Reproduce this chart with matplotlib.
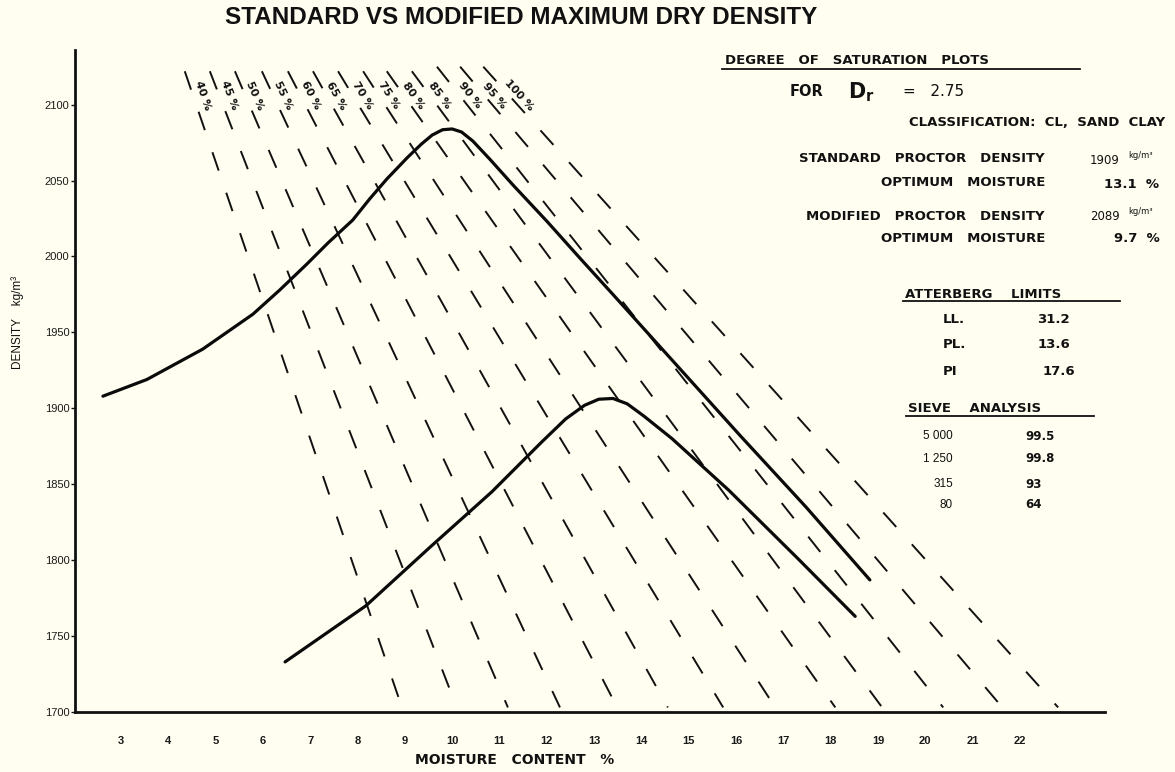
import numpy as np
import matplotlib
matplotlib.use("Agg")
import matplotlib.pyplot as plt
from matplotlib.lines import Line2D

W, H = 1175, 772
BG = "#fffef0"

# compaction curves (moisture %, dry density kg/m3)
mod_moisture = [2.62, 3.55, 4.73, 5.79, 6.36, 6.93, 7.38, 7.90, 8.26, 8.62, 9.05, 9.35, 9.58,
                9.80, 10.00, 10.20, 10.44, 10.80, 11.29, 12.01, 12.70, 13.40, 14.73, 16.09,
                17.48, 18.83]
mod_density = [1908, 1919, 1939, 1962, 1978, 1995, 2009, 2024, 2038, 2051, 2065, 2074, 2080,
               2083.5, 2084, 2082, 2076, 2064, 2047, 2023, 1999, 1975, 1929, 1882, 1835, 1787]

std_moisture = [6.47, 8.18, 9.55, 10.84, 11.90, 12.40, 12.80, 13.10, 13.40, 13.70, 14.05,
                14.65, 15.85, 17.31, 18.52]
std_density = [1733, 1770, 1809, 1845, 1878, 1893, 1902, 1906, 1906.5, 1903, 1895, 1880,
               1846, 1801, 1763]

# degree of saturation lines, read at top and bottom ends
sat_labels = ["40 %", "45 %", "50 %", "55 %", "60 %", "65 %", "70 %", "75 %", "80 %",
              "85 %", "90 %", "95 %", "100 %"]
sat_top_w = [4.35, 4.88, 5.41, 5.98, 6.53, 7.06, 7.59, 8.12, 8.62, 9.15, 9.68, 10.17, 10.66]
sat_top_d = [2122, 2122, 2122, 2122, 2122, 2122, 2122, 2122, 2122, 2122, 2125, 2125, 2125]
sat_bot_w = [8.94, 10.10, 11.18, 12.28, 13.49, 14.56, 15.73, 16.83, 18.10, 19.09, 20.38,
             21.63, 22.81]
sat_bot_d = [1703, 1703, 1703, 1703, 1703, 1703, 1703, 1703, 1703, 1703, 1703, 1703, 1703]

x_ticks = list(range(3, 23))
y_ticks = list(range(1700, 2101, 50))

fig = plt.figure(figsize=(W / 100, H / 100), dpi=100, facecolor=BG)
ax = fig.add_axes([75 / W, 1 - 712 / H, 1030 / W, 662 / H])
ax.set_facecolor(BG)
ax.set_xlim(2.03, 23.8)
ax.set_ylim(1700, 2136)

for s in ["top", "right"]:
    ax.spines[s].set_visible(False)
for s in ["left", "bottom"]:
    ax.spines[s].set_linewidth(2)
    ax.spines[s].set_color("#111111")

ax.set_xticks(x_ticks)
ax.set_xticklabels([str(t) for t in x_ticks], fontsize=8, fontweight="bold",
                   family="Liberation Sans", color="#1a1a1a")
ax.set_yticks(y_ticks)
ax.set_yticklabels([str(t) for t in y_ticks], fontsize=8, family="Liberation Sans",
                   color="#1a1a1a")
ax.tick_params(axis="x", length=0, pad=17)
ax.tick_params(axis="y", length=3, width=1, pad=1, color="#111111")

# saturation lines
for i in range(len(sat_labels)):
    ln, = ax.plot([sat_top_w[i], sat_bot_w[i]], [sat_top_d[i], sat_bot_d[i]],
                  color="#111111", lw=1.4, clip_on=False)
    ln.set_dashes((10, 12))

# compaction curves
ax.plot(mod_moisture, mod_density, color="#0a0a0a", lw=2.3, solid_capstyle="round",
        solid_joinstyle="round")
ax.plot(std_moisture, std_density, color="#0a0a0a", lw=2.3, solid_capstyle="round",
        solid_joinstyle="round")

# saturation labels, rotated along each line
label_d = 2106
for i, lab in enumerate(sat_labels):
    p1 = ax.transData.transform((sat_top_w[i], sat_top_d[i]))
    p2 = ax.transData.transform((sat_bot_w[i], sat_bot_d[i]))
    ang = np.degrees(np.arctan2(p2[1] - p1[1], p2[0] - p1[0]))
    t = (sat_top_d[i] - label_d) / (sat_top_d[i] - sat_bot_d[i])
    xl = sat_top_w[i] + t * (sat_bot_w[i] - sat_top_w[i])
    ax.annotate(lab, xy=(xl, label_d), xytext=(7, 0), textcoords="offset points",
                rotation=ang, rotation_mode="anchor", ha="center", va="center",
                fontsize=8, fontweight="bold", color="#111111", annotation_clip=False)


def ftext(x, y, s, **kw):
    kw.setdefault("color", "#111111")
    kw.setdefault("va", "center")
    fig.text(x / W, 1 - y / H, s, **kw)


def uline(x0, x1, y):
    fig.add_artist(Line2D([x0 / W, x1 / W], [1 - y / H, 1 - y / H], color="#111111", lw=1.3))


stencil = dict(fontsize=9.5, fontweight="bold", family="DejaVu Sans")
plain = dict(fontsize=8.5, family="DejaVu Sans")

ftext(521, 18, "STANDARD VS MODIFIED MAXIMUM DRY DENSITY", ha="center",
      fontsize=17.5, fontweight="bold", family="Liberation Sans")
ftext(515, 760, "MOISTURE   CONTENT   %", ha="center", fontsize=10, fontweight="bold",
      family="DejaVu Sans")
ftext(18, 322, "DENSITY    kg/m³", ha="center", rotation=90, fontsize=8.5,
      family="Liberation Sans")

ftext(725, 61, "DEGREE   OF   SATURATION   PLOTS", ha="left", **stencil)
uline(722, 1080, 69)
ftext(790, 91, "FOR", ha="left", fontsize=10.5, fontweight="bold", family="DejaVu Sans")
ftext(848, 92, r"$\mathbf{D_r}$", ha="left", fontsize=15)
ftext(903, 91, "=   2.75", ha="left", fontsize=11, family="DejaVu Sans")
ftext(1165, 123, "CLASSIFICATION:  CL,  SAND  CLAY", ha="right", **stencil)

ftext(1045, 159, "STANDARD   PROCTOR   DENSITY", ha="right", **stencil)
ftext(1090, 160, "1909", ha="left", **plain)
ftext(1128, 155, "kg/m³", ha="left", fontsize=6, family="DejaVu Sans")
ftext(1045, 183, "OPTIMUM   MOISTURE", ha="right", **stencil)
ftext(1104, 184, "13.1  %", ha="left", fontsize=9.5, fontweight="bold", family="DejaVu Sans")
ftext(1045, 216, "MODIFIED   PROCTOR   DENSITY", ha="right", **stencil)
ftext(1090, 217, "2089", ha="left", **plain)
ftext(1128, 212, "kg/m³", ha="left", fontsize=6, family="DejaVu Sans")
ftext(1045, 238, "OPTIMUM   MOISTURE", ha="right", **stencil)
ftext(1114, 239, "9.7  %", ha="left", fontsize=9.5, fontweight="bold", family="DejaVu Sans")

ftext(905, 294, "ATTERBERG    LIMITS", ha="left", **stencil)
uline(903, 1120, 301)
atter_names = ["LL.", "PL.", "PI"]
atter_values = ["31.2", "13.6", "17.6"]
atter_y = [320, 345, 372]
atter_vx = [1037, 1038, 1043]
for name, val, yy, vx in zip(atter_names, atter_values, atter_y, atter_vx):
    ftext(943, yy, name, ha="left", **stencil)
    ftext(vx, yy, val, ha="left", **stencil)

ftext(908, 409, "SIEVE    ANALYSIS", ha="left", **stencil)
uline(906, 1094, 416)
sieve_sizes = ["5 000", "1 250", "315", "80"]
sieve_pass = ["99.5", "99.8", "93", "64"]
sieve_y = [436, 459, 484, 505]
for sz, pv, yy in zip(sieve_sizes, sieve_pass, sieve_y):
    ftext(953, yy, sz, ha="right", fontsize=8.5, family="Liberation Sans")
    ftext(1025, yy, pv, ha="left", fontsize=8.5, fontweight="bold", family="DejaVu Sans")

fig.savefig("out.png", dpi=100, facecolor=BG)
